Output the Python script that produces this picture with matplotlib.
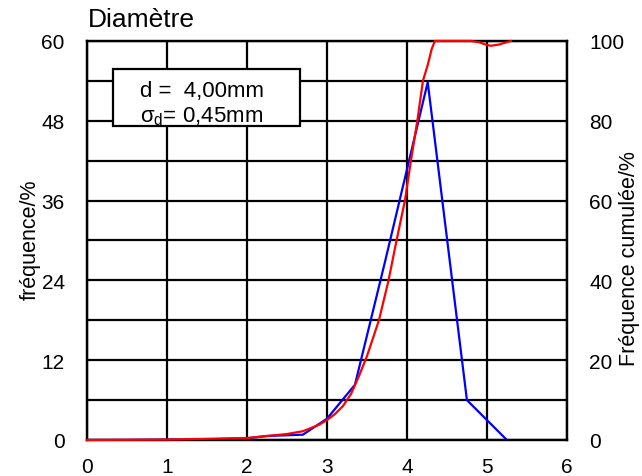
import matplotlib
matplotlib.use("Agg")
import matplotlib.pyplot as plt
from matplotlib.patches import Rectangle

plt.rcParams['font.family'] = ['Liberation Sans', 'DejaVu Sans']
plt.rcParams['mathtext.fontset'] = 'custom'
plt.rcParams['mathtext.rm'] = 'Liberation Sans'
plt.rcParams['mathtext.it'] = 'Liberation Sans'

# frequency (left axis, %)
freq_x = [0, 0.5, 1.0, 1.5, 2.0, 2.25, 2.7, 3.0, 3.35, 3.72, 4.26, 4.75, 5.25]
freq_y = [0, 0, 0.05, 0.1, 0.25, 0.6, 0.8, 3.2, 8.3, 26.5, 53.8, 6.0, 0]

# cumulative frequency (right axis, %)
cum_x = [0, 1.0, 2.0, 2.25, 2.5, 2.7, 2.9, 3.0, 3.1, 3.2, 3.3, 3.4, 3.5,
         3.6, 3.65, 3.77, 3.87, 3.975, 4.05, 4.13, 4.2, 4.26, 4.31, 4.35,
         4.5, 4.8, 4.9, 5.0, 5.05, 5.15, 5.25, 5.3]
cum_y = [0, 0.1, 0.5, 1.0, 1.5, 2.2, 3.8, 5.0, 6.5, 8.5, 11.5, 16, 21,
         27, 30, 40, 50, 60, 70, 80, 90, 94, 98, 100,
         100, 100, 99.7, 99.0, 98.8, 99.1, 99.7, 100]

fig = plt.figure(figsize=(6.42, 4.77), dpi=100)
ax = fig.add_axes([0.1355, 0.0755, 0.7475, 0.8365])
ax2 = ax.twinx()

ax.set_xlim(0, 6)
ax.set_ylim(0, 60)
ax.set_xticks(range(0, 7))
ax.set_yticks(range(0, 61, 12))
ax.set_yticks(range(0, 61, 6), minor=True)
ax.grid(True, which='both', color='black', linewidth=1.6)
ax.tick_params(which='both', length=0, labelsize=15)
ax.tick_params(axis='x', pad=12)
ax.tick_params(axis='y', pad=16)
for s in ax.spines.values():
    s.set_linewidth(1.6)

ax2.set_ylim(0, 100)
ax2.set_yticks(range(0, 101, 20))
ax2.tick_params(length=0, labelsize=15, pad=16)
for s in ax2.spines.values():
    s.set_linewidth(1.6)

ax.plot(freq_x, freq_y, color='#0000ff', linewidth=1.6, zorder=3)
ax2.plot(cum_x, cum_y, color='#ff0000', linewidth=1.6, zorder=3, clip_on=False)

# axis titles and chart title placed in figure pixels
fig.text(30 / 642, 1 - 240 / 477, 'fréquence/%', fontsize=15.5,
         rotation=90, ha='center', va='center')
fig.text(629 / 642, 1 - 259 / 477, 'Fréquence cumulée/%', fontsize=15.5,
         rotation=90, ha='center', va='center')
fig.text(88 / 642, 1 - 20 / 477, 'Diamètre', fontsize=19, ha='left', va='center')

box = Rectangle((0.325, 47.2), 2.335, 8.6, facecolor='white', edgecolor='black',
                linewidth=1.6, zorder=4)
ax.add_patch(box)
ax.text(0.66, 52.5, 'd =  4,00mm', fontsize=16, va='center', zorder=5)
ax.text(0.66, 48.8, r'$\sigma_d$= 0,45mm', fontsize=16, va='center', zorder=5)

fig.savefig('out.png', dpi=100)
